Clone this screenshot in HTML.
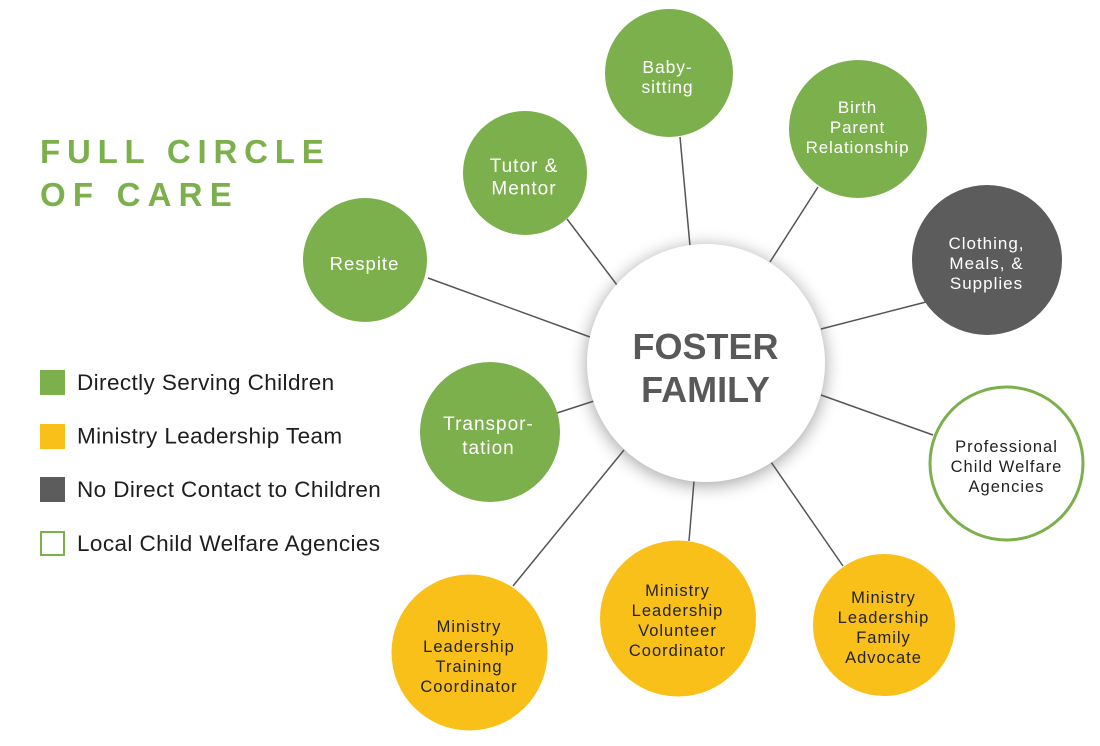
<!DOCTYPE html>
<html>
<head>
<meta charset="utf-8">
<style>
  html, body { margin: 0; padding: 0; background: #ffffff; }
  body { width: 1100px; height: 746px; overflow: hidden; }
  svg { display: block; }
  .t { font-family: "Liberation Sans", sans-serif; text-anchor: middle; }
</style>
</head>
<body>
<svg width="1100" height="746" viewBox="0 0 1100 746" xmlns="http://www.w3.org/2000/svg">
  <defs>
    <filter id="sh" x="-30%" y="-30%" width="160%" height="160%">
      <feGaussianBlur in="SourceAlpha" stdDeviation="9"/>
      <feOffset dx="0" dy="3" result="b"/>
      <feComponentTransfer><feFuncA type="linear" slope="0.38"/></feComponentTransfer>
    </filter>
  </defs>

  <!-- Title -->
  <text x="40" y="163" font-family="Liberation Sans, sans-serif" font-weight="bold" font-size="33" letter-spacing="6.8" fill="#7cb04c">FULL CIRCLE</text>
  <text x="40" y="206" font-family="Liberation Sans, sans-serif" font-weight="bold" font-size="33" letter-spacing="7.2" fill="#7cb04c">OF CARE</text>

  <!-- Legend -->
  <rect x="40" y="370" width="25" height="25" fill="#7cb04c"/>
  <rect x="40" y="424" width="25" height="25" fill="#f9c01a"/>
  <rect x="40" y="477" width="25" height="25" fill="#5c5c5c"/>
  <rect x="41" y="532" width="23" height="23" fill="#fff" stroke="#7cb04c" stroke-width="2"/>
  <g font-family="Liberation Sans, sans-serif" font-size="22.5" letter-spacing="0.4" fill="#1e1e1e">
    <text x="77" y="390">Directly Serving Children</text>
    <text x="77" y="443.5">Ministry Leadership Team</text>
    <text x="77" y="497">No Direct Contact to Children</text>
    <text x="77" y="551">Local Child Welfare Agencies</text>
  </g>

  <!-- Shadow of center -->
  <circle cx="706" cy="363" r="119" fill="#000" filter="url(#sh)"/>

  <!-- Connectors -->
  <g stroke="#555555" stroke-width="1.5" fill="none">
    <line x1="680" y1="137" x2="690" y2="246"/>
    <line x1="818" y1="187" x2="770" y2="262"/>
    <line x1="567" y1="219" x2="617" y2="285"/>
    <line x1="428" y1="278" x2="590" y2="337"/>
    <line x1="557" y1="413" x2="594" y2="401"/>
    <line x1="624" y1="450" x2="513" y2="586"/>
    <line x1="694" y1="481" x2="689" y2="541"/>
    <line x1="771" y1="462" x2="843" y2="566"/>
    <line x1="821" y1="329" x2="926" y2="302"/>
    <line x1="821" y1="395" x2="933" y2="435"/>
  </g>

  <!-- Center circle -->
  <circle cx="706" cy="363" r="119" fill="#ffffff"/>
  <g class="t" font-family="Liberation Sans, sans-serif" font-weight="bold" font-size="36" fill="#595959" text-anchor="middle">
    <text x="705.5" y="359">FOSTER</text>
    <text x="705.5" y="402">FAMILY</text>
  </g>

  <!-- Green circles -->
  <circle cx="669" cy="73" r="64" fill="#7cb04c"/>
  <circle cx="858" cy="129" r="69" fill="#7cb04c"/>
  <circle cx="525" cy="173" r="62" fill="#7cb04c"/>
  <circle cx="365" cy="260" r="62" fill="#7cb04c"/>
  <circle cx="490" cy="432" r="70" fill="#7cb04c"/>

  <!-- Gray circle -->
  <circle cx="987" cy="260" r="75" fill="#5c5c5c"/>

  <!-- White agency circle -->
  <circle cx="1006.5" cy="463.5" r="76.5" fill="#ffffff" stroke="#7cb04c" stroke-width="3"/>

  <!-- Yellow circles -->
  <circle cx="469.5" cy="652.5" r="78" fill="#f9c01a"/>
  <circle cx="678" cy="618.5" r="78" fill="#f9c01a"/>
  <circle cx="884" cy="625" r="71" fill="#f9c01a"/>

  <!-- Labels white -->
  <g font-family="Liberation Sans, sans-serif" fill="#ffffff" text-anchor="middle">
    <g font-size="17.5" letter-spacing="0.9">
      <text x="667.5" y="73">Baby-</text>
      <text x="667.5" y="93">sitting</text>
    </g>
    <g font-size="17" letter-spacing="0.85">
      <text x="857.5" y="113">Birth</text>
      <text x="857.5" y="133">Parent</text>
      <text x="857.5" y="153">Relationship</text>
    </g>
    <g font-size="19" letter-spacing="1">
      <text x="524" y="172">Tutor &amp;</text>
      <text x="524" y="194.5">Mentor</text>
    </g>
    <g font-size="18.5" letter-spacing="1">
      <text x="364.5" y="270">Respite</text>
    </g>
    <g font-size="19" letter-spacing="1">
      <text x="488.5" y="430">Transpor-</text>
      <text x="488.5" y="454">tation</text>
    </g>
    <g font-size="17" letter-spacing="1">
      <text x="986.5" y="249">Clothing,</text>
      <text x="986.5" y="269">Meals, &amp;</text>
      <text x="986.5" y="289">Supplies</text>
    </g>
  </g>

  <!-- Labels dark -->
  <g font-family="Liberation Sans, sans-serif" fill="#222222" text-anchor="middle" font-size="16.5" letter-spacing="1">
    <text x="1006.5" y="452">Professional</text>
    <text x="1006.5" y="472">Child Welfare</text>
    <text x="1006.5" y="492">Agencies</text>

    <text x="469" y="632">Ministry</text>
    <text x="469" y="652">Leadership</text>
    <text x="469" y="672">Training</text>
    <text x="469" y="692">Coordinator</text>

    <text x="677.5" y="596">Ministry</text>
    <text x="677.5" y="616">Leadership</text>
    <text x="677.5" y="636">Volunteer</text>
    <text x="677.5" y="656">Coordinator</text>

    <text x="883.5" y="603">Ministry</text>
    <text x="883.5" y="623">Leadership</text>
    <text x="883.5" y="643">Family</text>
    <text x="883.5" y="663">Advocate</text>
  </g>
</svg>
</body>
</html>
